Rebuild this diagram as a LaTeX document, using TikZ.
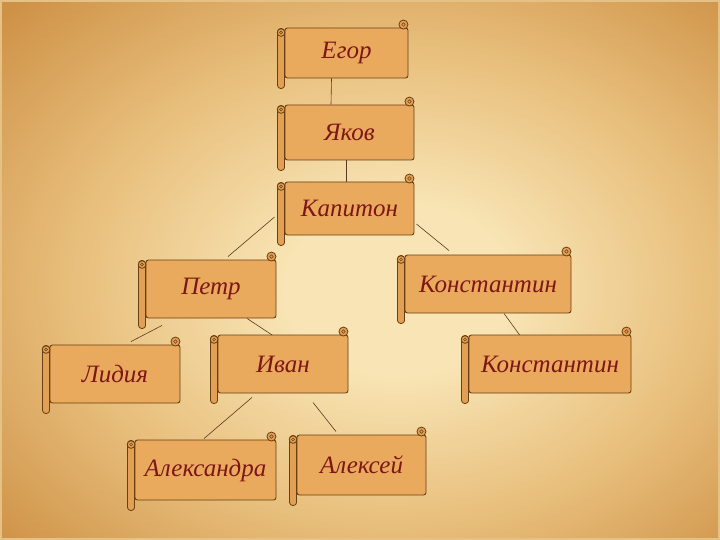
\documentclass[tikz,border=0pt]{standalone}
\usepackage{fontspec}
\setmainfont{Liberation Serif}
\usetikzlibrary{calc}
\definecolor{bgl}{HTML}{F8E4B4}
\definecolor{bgm}{HTML}{E8BF7C}
\definecolor{bgd}{HTML}{CB8C40}
\definecolor{bgdd}{HTML}{BD7A30}
\definecolor{boxc}{HTML}{E9AA5E}
\definecolor{rollc}{HTML}{E2A055}
\definecolor{edgec}{HTML}{6B3F14}
\definecolor{ink}{HTML}{7E1616}
\definecolor{linec}{HTML}{5A3A1E}
\pgfdeclareradialshading{parch}{\pgfpoint{3bp}{-2bp}}{color(0bp)=(bgl); color(8bp)=(bgl); color(22bp)=(bgm); color(38bp)=(bgd); color(55bp)=(bgdd); color(80bp)=(bgdd)}
\pgfdeclarelayer{bg}
\pgfdeclarelayer{lines}
\pgfsetlayers{bg,lines,main}
\tikzset{
  scroll/.style={draw=edgec, fill=boxc, line width=0.9pt, rounded corners=2.5pt,
    inner sep=0pt, font=\fontsize{25}{29}\selectfont\itshape, text=ink},
  rollst/.style={draw=edgec, fill=rollc, line width=0.8pt},
  conn/.style={draw=linec, line width=0.6pt}
}
\newcommand\scrollparts[1]{%
  \draw[rollst, rounded corners=3pt] ($(#1.north west)+(-7,1)$) rectangle ($(#1.south west)+(0,10)$);
  \draw[rollst] ($(#1.north west)+(-3.5,5)$) circle[radius=3.8pt];
  \draw[edgec, line width=0.5pt] ($(#1.north west)+(-3.5,5)$) circle[radius=1.5pt];
  \draw[rollst] ($(#1.north east)+(-5,-3)$) circle[radius=4.5pt];
  \draw[edgec, line width=0.5pt] ($(#1.north east)+(-5,-3)$) circle[radius=1.8pt];
}
\begin{document}
\begin{tikzpicture}[x=1pt,y=-1pt]
\useasboundingbox (0,0) rectangle (720,540);
\begin{pgfonlayer}{bg}
  \shade[shading=parch] (0,0) rectangle (720,540);
  \draw[bgl!60!bgd, line width=2pt] (1,1) rectangle (719,539);
\end{pgfonlayer}

\node[scroll, minimum width=123pt, minimum height=50pt] (egor) at (346.5,53) {Егор};
\node[scroll, minimum width=129pt, minimum height=55pt] (yakov) at (349.5,132.5) {Яков};
\node[scroll, minimum width=129pt, minimum height=53pt] (kapiton) at (349.5,208.5) {Капитон};
\node[scroll, minimum width=130pt, minimum height=58pt] (petr) at (211,289) {Петр};
\node[scroll, minimum width=166pt, minimum height=58pt] (konst1) at (488,284) {Константин};
\node[scroll, minimum width=130pt, minimum height=58pt] (lidiya) at (115,374) {Лидия};
\node[scroll, minimum width=130pt, minimum height=58pt] (ivan) at (283,364) {Иван};
\node[scroll, minimum width=162pt, minimum height=58pt] (konst2) at (550,364) {Константин};
\node[scroll, minimum width=141pt, minimum height=60pt] (aleksandra) at (205.5,470) {Александра};
\node[scroll, minimum width=129pt, minimum height=60pt] (aleksey) at (361.5,465) {Алексей};

\foreach \n in {egor,yakov,kapiton,petr,konst1,lidiya,ivan,konst2,aleksandra,aleksey}{\scrollparts{\n}}

\begin{pgfonlayer}{lines}
  \draw[conn] ($(egor.south)+(-15,0)$) -- ($(yakov.north)+(-18.5,0)$);
  \draw[conn] ($(yakov.south)+(-3.5,0)$) -- ($(kapiton.north)+(-3.5,0)$);
  \draw[conn] ($(kapiton.west)+(-10,8.5)$) -- ($(petr.north)+(17,-3)$);
  \draw[conn] ($(kapiton.east)+(2,15.5)$) -- ($(konst1.north)+(-39,-4)$);
  \draw[conn] ($(petr.south)+(-49,7)$) -- ($(lidiya.north)+(16,-3)$);
  \draw[conn] ($(petr.south)+(36,0)$) -- ($(ivan.north)+(-4,5)$);
  \draw[conn] ($(konst1.south)+(16,0)$) -- ($(konst2.north)+(-30,1)$);
  \draw[conn] ($(ivan.south)+(-31,4)$) -- ($(aleksandra.north)+(-1.5,-1)$);
  \draw[conn] ($(ivan.south)+(30,9)$) -- ($(aleksey.north)+(-25.5,-3)$);
\end{pgfonlayer}
\end{tikzpicture}
\end{document}
